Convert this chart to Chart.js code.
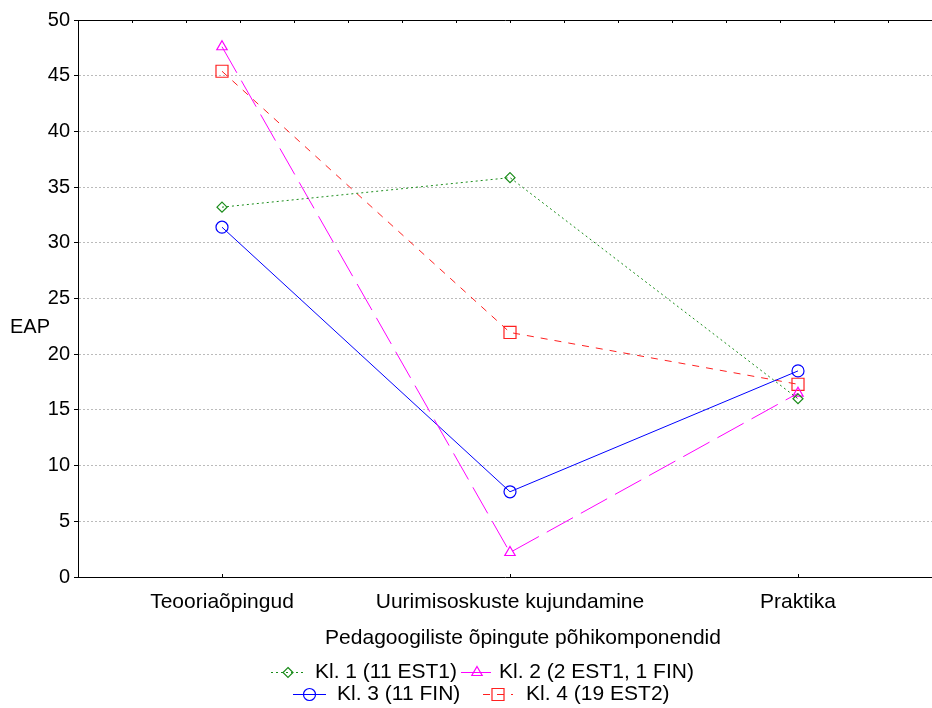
<!DOCTYPE html>
<html>
<head>
<meta charset="utf-8">
<script src="https://cdn.jsdelivr.net/npm/chart.js@4/dist/chart.umd.min.js"></script>
<style>
  html, body { margin: 0; padding: 0; background: #fff; overflow: hidden; }
  canvas { display: block; }
</style>
</head>
<body>
<canvas id="c" width="932" height="708"></canvas>
<script>
// ---- data ----
const categories = ['Teooriaõpingud', 'Uurimisoskuste kujundamine', 'Praktika'];
const seriesNames = ['Kl. 1 (11 EST1)', 'Kl. 2 (2 EST1, 1 FIN)', 'Kl. 3 (11 FIN)', 'Kl. 4 (19 EST2)'];
const kl1 = [33.2, 35.85, 16.0];
const kl2 = [47.6, 2.2, 16.5];
const kl3 = [31.4, 7.65, 18.5];
const kl4 = [45.4, 21.95, 17.3];
const yTicks = [0, 5, 10, 15, 20, 25, 30, 35, 40, 45, 50];
const yTitle = 'EAP';
const xTitle = 'Pedagoogiliste õpingute põhikomponendid';

const FONT = '"Liberation Sans", Arial, sans-serif';
const OVERHANG = 10; // plot frame continues past the right edge of the picture

const styles = [
  { color: '#1a8c1a', dash: [2, 3], point: 'rectRot', r: 5 },
  { color: '#ff00ff', dash: [30, 9], point: 'triangle', r: 6 },
  { color: '#0000ff', dash: [], point: 'circle', r: 6 },
  { color: '#ff2020', dash: [7, 7], point: 'rect', r: 8.5 }
];
const seriesData = [kl1, kl2, kl3, kl4];

const datasets = seriesData.map((d, i) => ({
  label: seriesNames[i],
  data: d,
  borderColor: styles[i].color,
  borderWidth: 1,
  borderDash: styles[i].dash,
  pointStyle: styles[i].point,
  pointRadius: styles[i].r,
  pointHoverRadius: styles[i].r,
  pointBorderColor: styles[i].color,
  pointBackgroundColor: 'rgba(0,0,0,0)',
  pointBorderWidth: 1.2,
  fill: false,
  tension: 0
}));

const legendLayout = [
  { x0: 271, x1: 305, tx: 315, y: 672 },
  { x0: 461, x1: 493, tx: 499, y: 672 },
  { x0: 293, x1: 326, tx: 337, y: 694 },
  { x0: 483, x1: 513, tx: 526, y: 694 }
];

function drawMarker(ctx, style, r, x, y) {
  ctx.beginPath();
  if (style === 'circle') {
    ctx.arc(x, y, r, 0, Math.PI * 2);
  } else if (style === 'rect') {
    const s = Math.SQRT1_2 * r;
    ctx.rect(x - s, y - s, 2 * s, 2 * s);
  } else if (style === 'rectRot') {
    ctx.moveTo(x, y - r); ctx.lineTo(x + r, y); ctx.lineTo(x, y + r); ctx.lineTo(x - r, y); ctx.closePath();
  } else if (style === 'triangle') {
    ctx.moveTo(x, y - r);
    ctx.lineTo(x + r * Math.sin(Math.PI * 2 / 3), y - r * Math.cos(Math.PI * 2 / 3));
    ctx.lineTo(x + r * Math.sin(Math.PI * 4 / 3), y - r * Math.cos(Math.PI * 4 / 3));
    ctx.closePath();
  }
  ctx.stroke();
}

const extras = {
  id: 'extras',
  afterLayout(chart) {
    const a = chart.chartArea;
    const extra = chart.width + OVERHANG - a.right;
    a.right += extra;
    a.width += extra;
    const x = chart.scales.x;
    x.right += extra;
    x.width += extra;
    x.configure();
  },
  afterDraw(chart) {
    const { ctx, chartArea: a, scales } = chart;
    ctx.save();
    ctx.strokeStyle = '#000';
    ctx.lineWidth = 1;
    ctx.setLineDash([]);
    ctx.beginPath();
    ctx.moveTo(a.left, a.top + 0.5); ctx.lineTo(a.right, a.top + 0.5);
    for (let i = 1; i < 16; i++) {
      const x = Math.round(a.left + i * (a.right - a.left) / 16) + 0.5;
      ctx.moveTo(x, a.top); ctx.lineTo(x, a.top + 3);
    }
    categories.forEach((c, i) => {
      const x = Math.round(scales.x.getPixelForValue(i)) + 0.5;
      ctx.moveTo(x, a.bottom); ctx.lineTo(x, a.bottom - 3);
    });
    ctx.stroke();

    ctx.fillStyle = '#000';
    ctx.textBaseline = 'middle';
    ctx.textAlign = 'left';
    ctx.font = '20px ' + FONT;
    ctx.fillText(yTitle, 10, 327);
    ctx.font = '21px ' + FONT;
    ctx.textAlign = 'center';
    ctx.fillText(xTitle, 523, 638);

    // legend
    chart.data.datasets.forEach((ds, i) => {
      const L = legendLayout[i];
      ctx.strokeStyle = ds.borderColor;
      ctx.lineWidth = 1;
      ctx.setLineDash(ds.borderDash);
      ctx.beginPath();
      ctx.moveTo(L.x0, L.y + 0.5); ctx.lineTo(L.x1, L.y + 0.5);
      ctx.stroke();
      ctx.setLineDash([]);
      ctx.lineWidth = 1.2;
      drawMarker(ctx, ds.pointStyle, ds.pointRadius, (L.x0 + L.x1) / 2, L.y + 0.5);
      ctx.fillStyle = '#000';
      ctx.textAlign = 'left';
      ctx.fillText(ds.label, L.tx, L.y);
    });
    ctx.restore();
  }
};

new Chart(document.getElementById('c'), {
  type: 'line',
  data: { labels: categories, datasets },
  plugins: [extras],
  options: {
    responsive: false,
    animation: false,
    devicePixelRatio: 1,
    layout: { padding: { top: 20, right: 0, bottom: 0, left: 0 } },
    plugins: { legend: { display: false }, tooltip: { enabled: false } },
    scales: {
      x: {
        type: 'category',
        offset: true,
        grid: { display: false, drawTicks: false },
        border: { display: true, color: '#000', width: 1 },
        ticks: { color: '#000', font: { family: FONT, size: 21 }, padding: 13, maxRotation: 0, autoSkip: false },
        afterFit: s => { s.height = 131; }
      },
      y: {
        min: 0, max: 50,
        afterBuildTicks: s => { s.ticks = yTicks.map(v => ({ value: v })); },
        grid: {
          color: c => (c.tick && (c.tick.value === 0 || c.tick.value === 50)) ? 'rgba(0,0,0,0)' : '#bbbbbb',
          lineWidth: 1,
          tickColor: '#000',
          tickLength: 4,
          drawTicks: true
        },
        border: { display: true, color: '#000', width: 1, dash: [2, 2] },
        ticks: { color: '#000', font: { family: FONT, size: 20 }, padding: 4 },
        afterFit: s => { s.width = 78; }
      }
    }
  }
});
</script>
</body>
</html>
